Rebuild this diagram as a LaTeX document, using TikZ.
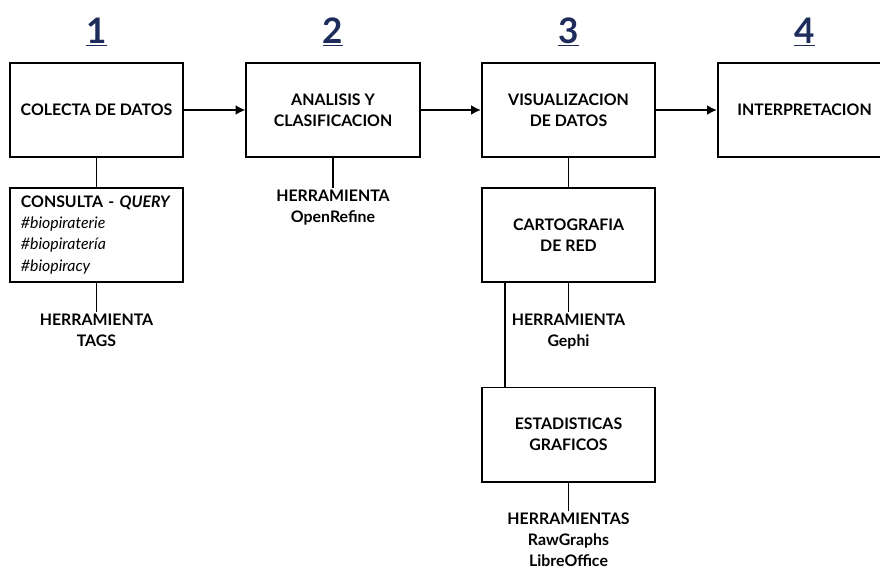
\documentclass[tikz,border=0pt]{standalone}
\usepackage{fontspec}
\setmainfont{Lato}
\usepackage{xcolor}
\usetikzlibrary{arrows.meta}
\definecolor{stepblue}{RGB}{30,44,92}

\begin{document}
\begin{tikzpicture}[x=0.025cm, y=0.025cm,
		box/.style={draw=black, line width=1.4pt, minimum width=4.325cm, minimum height=2.35cm, align=center, inner sep=2pt, font=\fontsize{11.3}{15}\selectfont\bfseries},
		tool/.style={align=center, inner sep=1pt, font=\fontsize{11.3}{15}\selectfont\bfseries},
		stepnum/.style={text=stepblue, font=\fontsize{25}{26}\selectfont\bfseries},
		link/.style={line width=1.4pt},
		flow/.style={line width=1.5pt, -{Latex[length=7pt,width=7pt]}}]
		\useasboundingbox (0,0) rectangle (880,-574);
		% step numbers
		\node [stepnum] (n1) at (96.5,-32) {\underline{1}};
		\node [stepnum] (n2) at (333,-32) {\underline{2}};
		\node [stepnum] (n3) at (568.5,-32) {\underline{3}};
		\node [stepnum] (n4) at (804.5,-32) {\underline{4}};
		% main boxes
		\node [box] (colecta) at (96.5,-110) {COLECTA DE DATOS};
		\node [box] (analisis) at (333,-110) {ANALISIS Y\\CLASIFICACION};
		\node [box] (visual) at (568.5,-110) {VISUALIZACION\\DE DATOS};
		\node [box] (interp) at (804.5,-110) {INTERPRETACION};
		\draw [flow] (colecta) -- (analisis);
		\draw [flow] (analisis) -- (visual);
		\draw [flow] (visual) -- (interp);
		% step 1
		\node [box, text width=3.78cm, inner xsep=0.27cm, align=left] (query) at (96.5,-235) {CONSULTA - \textit{QUERY}\\\mdseries\itshape \#biopiraterie\\\mdseries\itshape \#biopiratería\\\mdseries\itshape \#biopiracy};
		\draw [link] (colecta) -- (query);
		\node [tool, anchor=north] (tags) at (96.5,-312) {HERRAMIENTA\\TAGS};
		\draw [link] (query) -- (tags);
		% step 2
		\node [tool, anchor=north] (refine) at (333,-188) {HERRAMIENTA\\OpenRefine};
		\draw [link] (analisis) -- (refine);
		% step 3
		\node [box] (carto) at (568.5,-235) {CARTOGRAFIA\\DE RED};
		\draw [link] (visual) -- (carto);
		\node [tool, anchor=north] (gephi) at (568.5,-312) {HERRAMIENTA\\Gephi};
		\draw [link] (carto) -- (gephi);
		\node [box] (estad) at (568.5,-434.5) {ESTADISTICAS\\GRAFICOS};
		\draw [link] ([xshift=0.6cm]carto.south west) -- ([xshift=0.6cm]estad.north west);
		\node [tool, anchor=north] (raw) at (568.5,-511) {HERRAMIENTAS\\RawGraphs\\LibreOffice};
		\draw [link] (estad) -- (raw);
	\end{tikzpicture}
\end{document}
